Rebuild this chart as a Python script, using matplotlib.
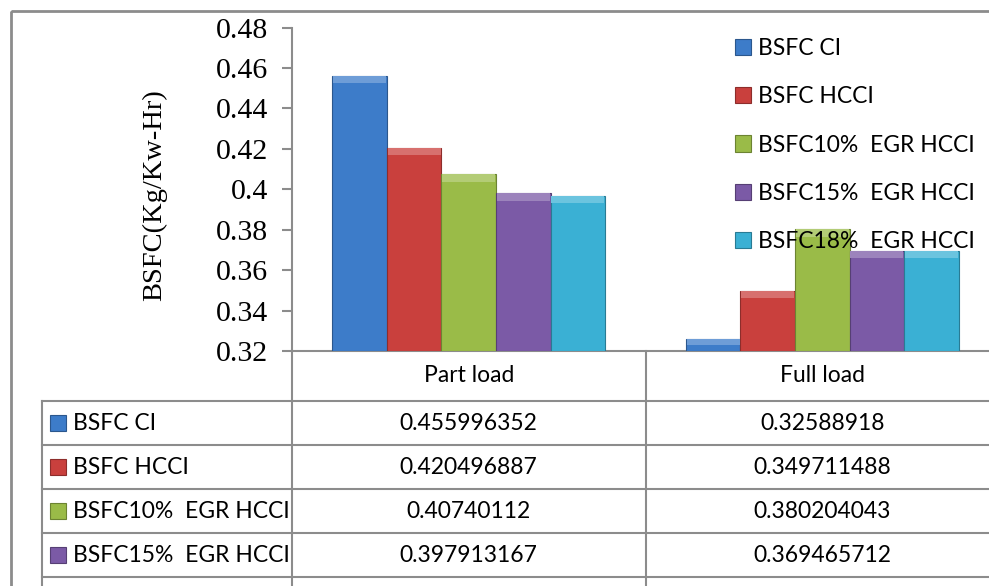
import matplotlib.pyplot as plt
from matplotlib.patches import Rectangle
from matplotlib.ticker import FuncFormatter, MultipleLocator
import matplotlib.colors as mcolors
import numpy as np

W, H = 989, 586

loads = ["Part load", "Full load"]
series_names = ["BSFC CI", "BSFC HCCI", "BSFC10%  EGR HCCI",
                "BSFC15%  EGR HCCI", "BSFC18%  EGR HCCI"]
bsfc_ci = [0.455996352, 0.32588918]
bsfc_hcci = [0.420496887, 0.349711488]
bsfc_egr10 = [0.40740112, 0.380204043]
bsfc_egr15 = [0.397913167, 0.369465712]
bsfc_egr18 = [0.3969, 0.3694]  # table row is cut off
series_values = [bsfc_ci, bsfc_hcci, bsfc_egr10, bsfc_egr15, bsfc_egr18]
colors = ["#3d7cc9", "#c9403d", "#9abb48", "#7b5aa6", "#3ab0d4"]

Y_MIN, Y_MAX, Y_STEP = 0.32, 0.48, 0.02

GRID = "#8c8c8c"
SANS = "Lato"
SERIF = "Liberation Serif"
FS = 16.5


def px(x, y):
    # figure pixel (top-left origin) -> figure fraction
    return x / W, 1 - y / H


def darker(c, f=0.7):
    r, g, b = mcolors.to_rgb(c)
    return (r * f, g * f, b * f)


def lighter(c, f=0.25):
    r, g, b = mcolors.to_rgb(c)
    return (r + (1 - r) * f, g + (1 - g) * f, b + (1 - b) * f)


fig = plt.figure(figsize=(W / 100, H / 100), dpi=100)

# axes for the table / frame, in pixel units
tab = fig.add_axes([0, 0, 1, 1])
tab.set_xlim(0, W)
tab.set_ylim(H, 0)
tab.axis("off")

ax_left, ax_right, ax_top, ax_bot = 292, 999, 27.5, 351
l, b = px(ax_left, ax_bot)
r, t = px(ax_right, ax_top)
ax = fig.add_axes([l, b, r - l, t - b])
ax.set_facecolor("none")

n = len(series_names)
bar_w = 0.1545
x = np.arange(len(loads))
cap = 0.0036
handles = []
for k, (name, vals, c) in enumerate(zip(series_names, series_values, colors)):
    xs = x + (k - (n - 1) / 2) * bar_w
    vals = np.array(vals)
    bars = ax.bar(xs, vals - Y_MIN, bar_w, bottom=Y_MIN, color=c,
                  edgecolor=darker(c), linewidth=0.8, label=name, zorder=3)
    # soft bevel on top of each bar
    ch = np.minimum(cap, (vals - Y_MIN) * 0.5)
    ax.bar(xs, ch, bar_w * 0.97, bottom=vals - ch, color=lighter(c),
           linewidth=0, zorder=4)
    handles.append(bars)

ax.set_xlim(-0.5, len(loads) - 0.5)
ax.set_ylim(Y_MIN, Y_MAX)
ax.yaxis.set_major_locator(MultipleLocator(Y_STEP))
ax.yaxis.set_major_formatter(FuncFormatter(lambda v, p: f"{round(v, 2):g}"))
ax.set_xticks([])
for s in ["top", "right", "bottom"]:
    ax.spines[s].set_visible(False)
ax.spines["left"].set_color(GRID)
ax.spines["left"].set_linewidth(1.5)
ax.tick_params(axis="y", direction="out", length=7, width=1.5, color=GRID,
               pad=10)
for lab in ax.get_yticklabels():
    lab.set_fontfamily(SERIF)
    lab.set_fontsize(21.5)
ax.set_ylabel("BSFC(Kg/Kw-Hr)", fontfamily=SERIF, fontsize=20.5)
ax.yaxis.set_label_coords(167, 195, transform=tab.transData)

ax.legend(handles=handles, labels=series_names, loc="upper left",
          bbox_to_anchor=px(735, 38), bbox_transform=fig.transFigure,
          frameon=False, handlelength=0.7, handleheight=0.7,
          handletextpad=0.3, labelspacing=1.19, borderpad=0,
          borderaxespad=0, prop={"family": SANS, "size": FS})

# table under the chart
fig.canvas.draw()
edges = [ax.transData.transform((i - 0.5, 0))[0] for i in range(len(loads) + 1)]
table_left = 42
head_h, row_h = 50, 44
rows_y = [ax_bot + head_h + i * row_h for i in range(n + 1)]

lw = 1.5
tab.plot([edges[0], edges[-1]], [ax_bot, ax_bot], color=GRID, lw=lw)
for yy in rows_y:
    tab.plot([table_left, edges[-1]], [yy, yy], color=GRID, lw=lw)
for xx in edges[1:]:
    tab.plot([xx, xx], [ax_bot, rows_y[-1]], color=GRID, lw=lw)
tab.plot([edges[0], edges[0]], [ax_bot, rows_y[-1]], color=GRID, lw=lw)
tab.plot([table_left, table_left], [rows_y[0], rows_y[-1]], color=GRID, lw=lw)

for i, name in enumerate(loads):
    tab.text((edges[i] + edges[i + 1]) / 2, ax_bot + head_h / 2, name,
             ha="center", va="center", family=SANS, fontsize=FS)

for k, (name, vals, c) in enumerate(zip(series_names, series_values, colors)):
    cy = rows_y[k] + row_h / 2
    if cy + 10 > H:
        # last row lies below the cropped picture edge
        continue
    tab.add_patch(Rectangle((50, cy - 8), 16, 16, facecolor=c,
                            edgecolor=darker(c), lw=0.8))
    tab.text(73, cy, name, ha="left", va="center", family=SANS, fontsize=FS)
    for i, v in enumerate(vals):
        tab.text((edges[i] + edges[i + 1]) / 2, cy, str(v), ha="center",
                 va="center", family=SANS, fontsize=FS)

# outer chart frame
tab.add_patch(Rectangle((11, 11), W + 20, H + 20, fill=False, edgecolor=GRID,
                        lw=2))

fig.savefig("out.png", dpi=100)
